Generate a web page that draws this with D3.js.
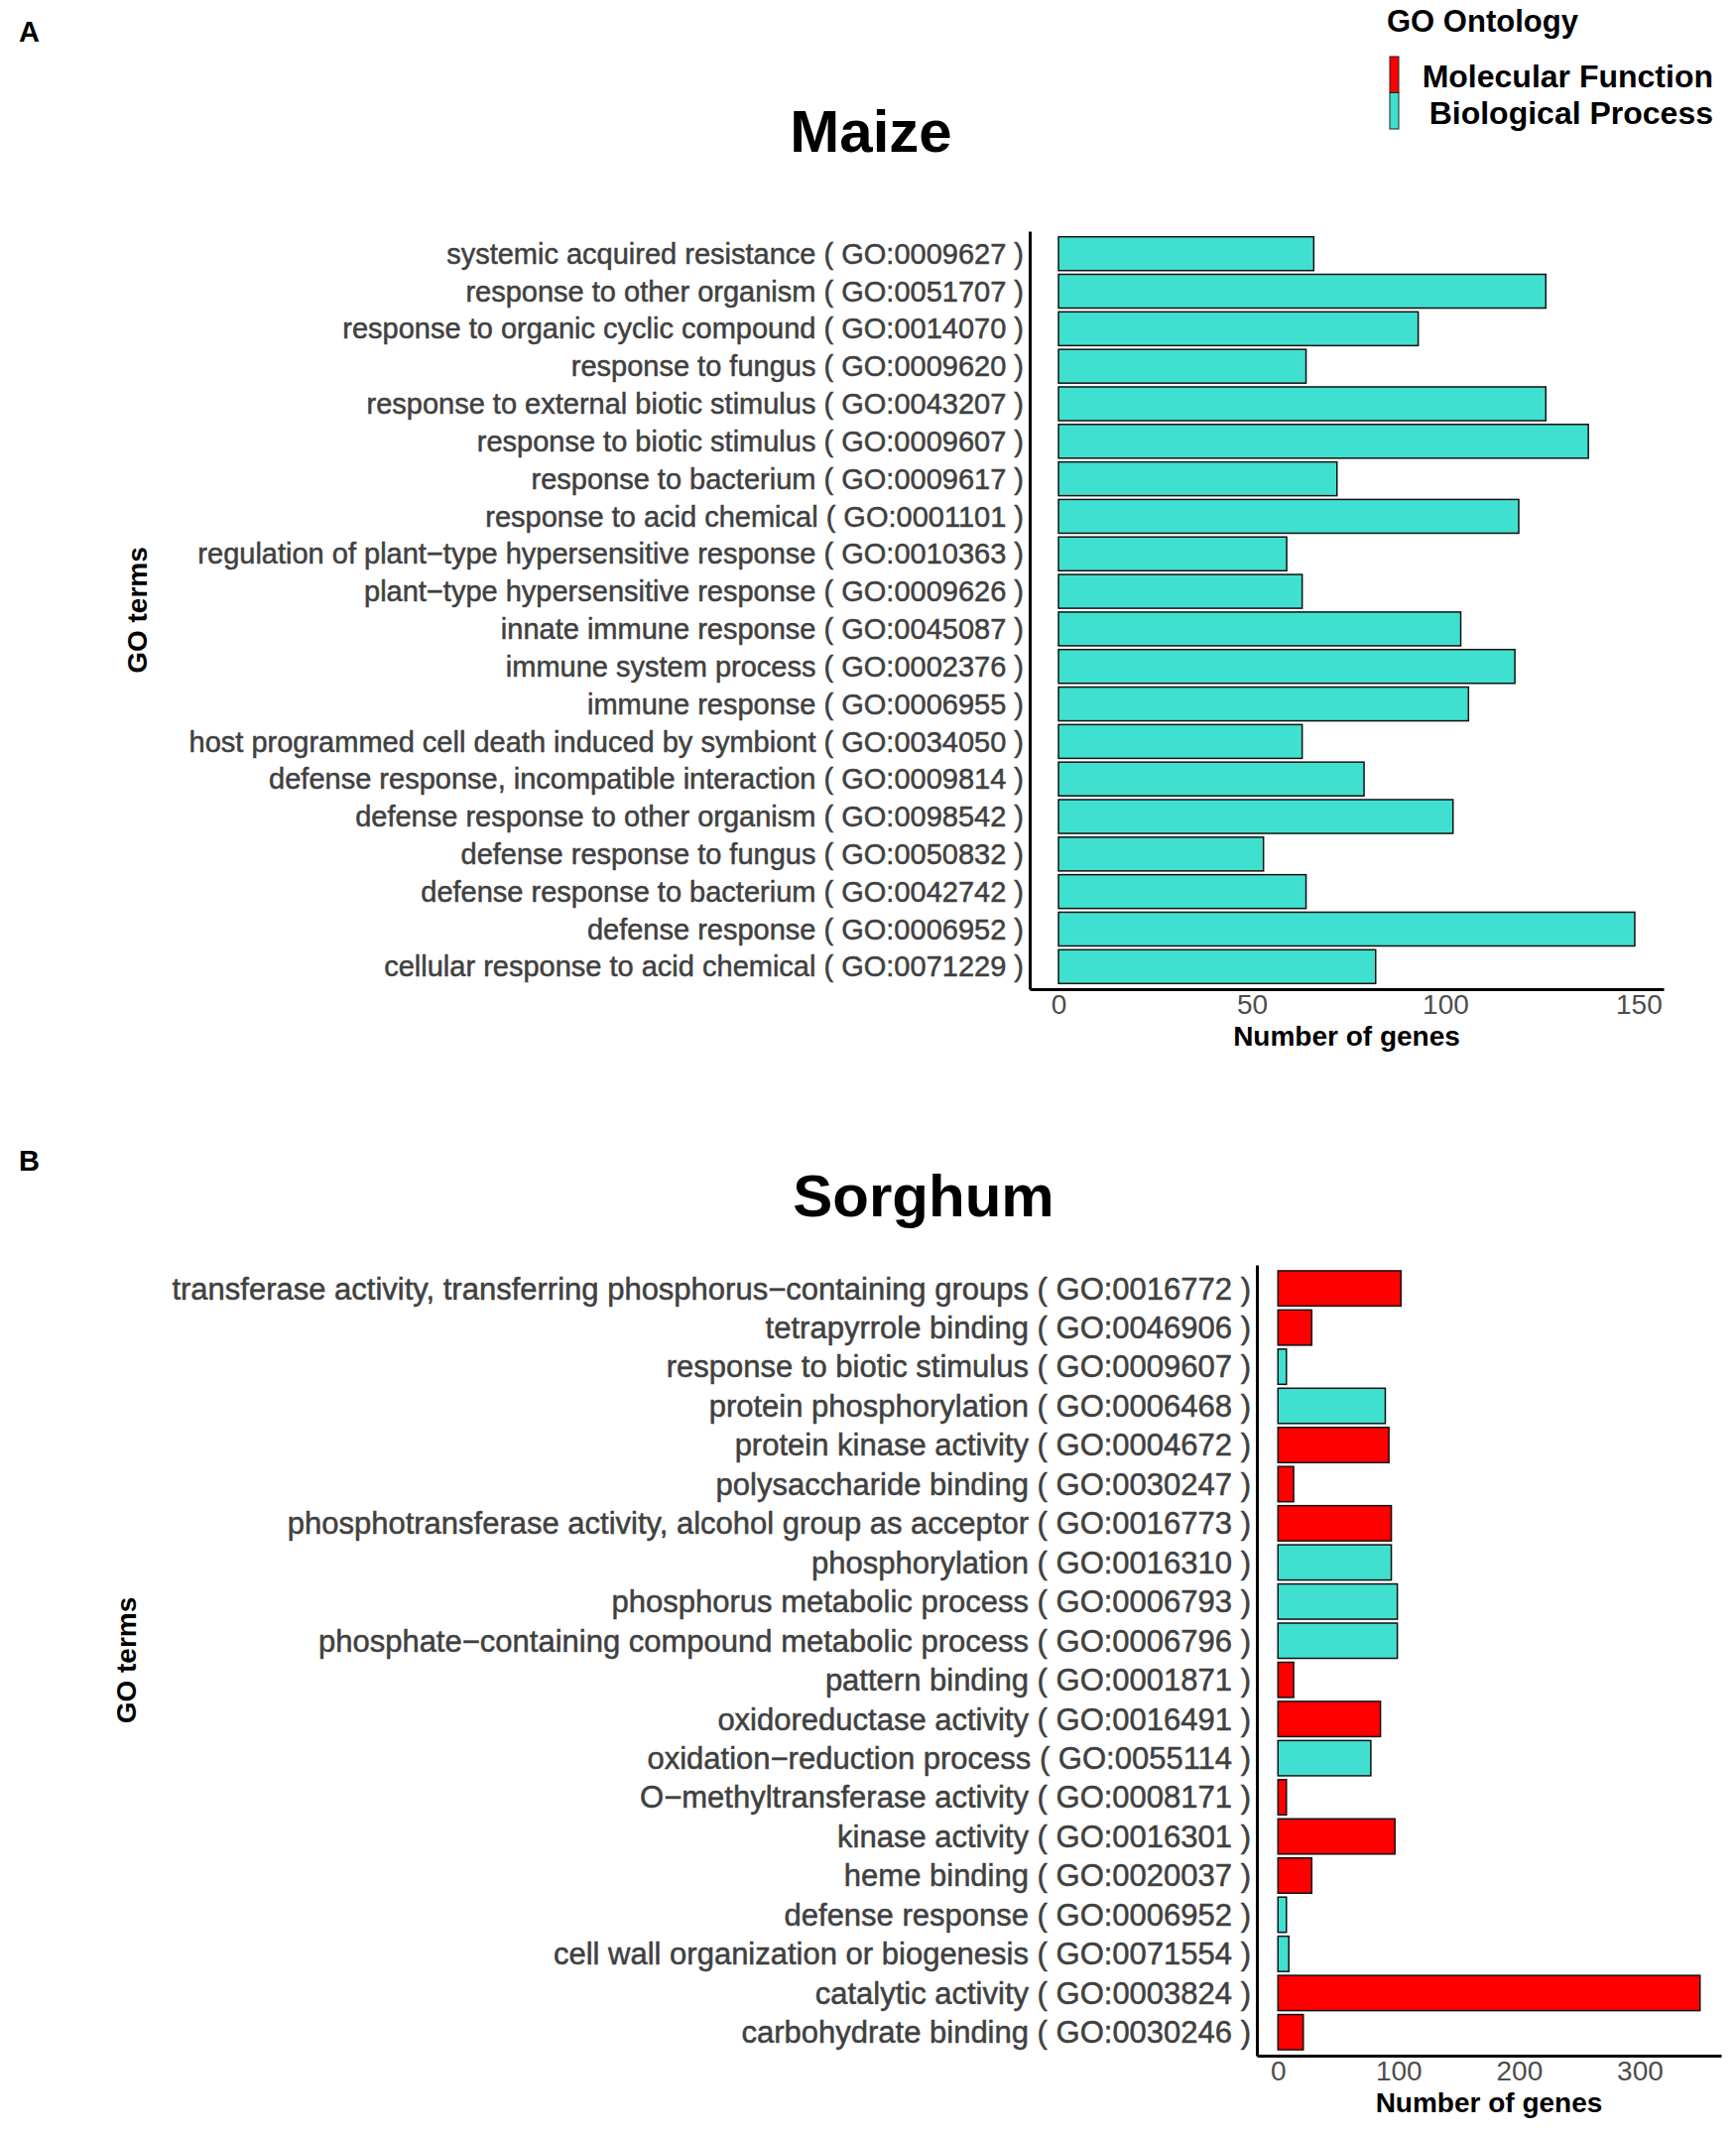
<!DOCTYPE html>
<html>
<head>
<meta charset="utf-8">
<script src="https://cdn.jsdelivr.net/npm/d3@7"></script>
<style>
  body { margin: 0; background: #fff; }
  svg { font-family: "Liberation Sans", Arial, sans-serif; }
</style>
</head>
<body>
<svg id="chart" width="1750" height="2153"></svg>
<script>
// Maize GO terms, top to bottom
const maizeTerms = [
  "systemic acquired resistance ( GO:0009627 )",
  "response to other organism ( GO:0051707 )",
  "response to organic cyclic compound ( GO:0014070 )",
  "response to fungus ( GO:0009620 )",
  "response to external biotic stimulus ( GO:0043207 )",
  "response to biotic stimulus ( GO:0009607 )",
  "response to bacterium ( GO:0009617 )",
  "response to acid chemical ( GO:0001101 )",
  "regulation of plant\u2212type hypersensitive response ( GO:0010363 )",
  "plant\u2212type hypersensitive response ( GO:0009626 )",
  "innate immune response ( GO:0045087 )",
  "immune system process ( GO:0002376 )",
  "immune response ( GO:0006955 )",
  "host programmed cell death induced by symbiont ( GO:0034050 )",
  "defense response, incompatible interaction ( GO:0009814 )",
  "defense response to other organism ( GO:0098542 )",
  "defense response to fungus ( GO:0050832 )",
  "defense response to bacterium ( GO:0042742 )",
  "defense response ( GO:0006952 )",
  "cellular response to acid chemical ( GO:0071229 )"
];
const maizeCounts = [66, 126, 93, 64, 126, 137, 72, 119, 59, 63, 104, 118, 106, 63, 79, 102, 53, 64, 149, 82];
const maizeOntology = maizeTerms.map(() => "BP");
const maizeTicks = [0, 50, 100, 150];

// Sorghum GO terms, top to bottom
const sorghumTerms = [
  "transferase activity, transferring phosphorus\u2212containing groups ( GO:0016772 )",
  "tetrapyrrole binding ( GO:0046906 )",
  "response to biotic stimulus ( GO:0009607 )",
  "protein phosphorylation ( GO:0006468 )",
  "protein kinase activity ( GO:0004672 )",
  "polysaccharide binding ( GO:0030247 )",
  "phosphotransferase activity, alcohol group as acceptor ( GO:0016773 )",
  "phosphorylation ( GO:0016310 )",
  "phosphorus metabolic process ( GO:0006793 )",
  "phosphate\u2212containing compound metabolic process ( GO:0006796 )",
  "pattern binding ( GO:0001871 )",
  "oxidoreductase activity ( GO:0016491 )",
  "oxidation\u2212reduction process ( GO:0055114 )",
  "O\u2212methyltransferase activity ( GO:0008171 )",
  "kinase activity ( GO:0016301 )",
  "heme binding ( GO:0020037 )",
  "defense response ( GO:0006952 )",
  "cell wall organization or biogenesis ( GO:0071554 )",
  "catalytic activity ( GO:0003824 )",
  "carbohydrate binding ( GO:0030246 )"
];
const sorghumCounts = [102, 28, 7, 89, 92, 13, 94, 94, 99, 99, 13, 85, 77, 7, 97, 28, 7, 9, 350, 21];
const sorghumOntology = ["MF", "MF", "BP", "BP", "MF", "MF", "MF", "BP", "BP", "BP",
                         "MF", "MF", "BP", "MF", "MF", "MF", "BP", "BP", "MF", "MF"];
const sorghumTicks = [0, 100, 200, 300];

const ontologyKeys = ["MF", "BP"];
const ontologyNames = ["Molecular Function", "Biological Process"];
const ontologyColors = ["#ff0000", "#40e0d0"];

const color = d3.scaleOrdinal().domain(ontologyKeys).range(ontologyColors);
const svg = d3.select("#chart");

function drawPanel(p) {
  const g = svg.append("g");
  const max = d3.max(p.counts);

  // ggplot-like 5% expansion on the value axis
  const x = d3.scaleLinear()
    .domain([-0.05 * max, max * 1.05])
    .range([p.left, p.right]);

  const y = d3.scaleBand()
    .domain(p.terms)
    .range([p.top, p.bottom])
    .paddingInner(0.1)
    .paddingOuter(0.15);

  // bars
  g.selectAll("rect.bar")
    .data(p.terms)
    .enter()
    .append("rect")
    .attr("class", "bar")
    .attr("x", x(0))
    .attr("y", d => y(d))
    .attr("width", (d, i) => x(p.counts[i]) - x(0))
    .attr("height", y.bandwidth())
    .attr("fill", (d, i) => color(p.ontology[i]))
    .attr("stroke", "#111")
    .attr("stroke-width", 1.5);

  // y axis with term labels
  const ya = g.append("g")
    .attr("transform", `translate(${p.left},0)`)
    .call(d3.axisLeft(y).tickSize(0).tickPadding(6));
  ya.select(".domain").attr("stroke", "#000").attr("stroke-width", 3);
  ya.selectAll("text")
    .attr("fill", "#404040")
    .attr("stroke", "#404040")
    .attr("stroke-width", 0.5)
    .style("font-size", p.labelSize + "px")
    .attr("dy", "0.35em");

  // x axis
  const xa = g.append("g")
    .attr("transform", `translate(0,${p.bottom})`)
    .call(d3.axisBottom(x).tickValues(p.ticks).tickSize(0).tickPadding(5));
  xa.select(".domain").attr("stroke", "#000").attr("stroke-width", 3);
  xa.selectAll("text")
    .attr("fill", "#4d4d4d")
    .style("font-size", "28px");

  // axis titles
  g.append("text")
    .attr("x", (p.left + p.right) / 2)
    .attr("y", p.bottom + 57)
    .attr("text-anchor", "middle")
    .style("font-size", "28px")
    .style("font-weight", "bold")
    .text("Number of genes");

  g.append("text")
    .attr("transform", `translate(${p.yTitleX},${(p.top + p.bottom) / 2}) rotate(-90)`)
    .attr("text-anchor", "middle")
    .style("font-size", "28px")
    .style("font-weight", "bold")
    .text("GO terms");

  // panel title
  g.append("text")
    .attr("x", p.titleX)
    .attr("y", p.titleY)
    .attr("text-anchor", "middle")
    .style("font-size", "60px")
    .style("font-weight", "bold")
    .text(p.title);

  // panel letter
  g.append("text")
    .attr("x", 19)
    .attr("y", p.letterY)
    .style("font-size", "29px")
    .style("font-weight", "bold")
    .text(p.letter);
}

drawPanel({
  terms: maizeTerms, counts: maizeCounts, ontology: maizeOntology, ticks: maizeTicks,
  left: 1038, right: 1677, top: 233, bottom: 997, labelSize: 29,
  yTitleX: 148, title: "Maize", titleX: 878, titleY: 153, letter: "A", letterY: 42
});

drawPanel({
  terms: sorghumTerms, counts: sorghumCounts, ontology: sorghumOntology, ticks: sorghumTicks,
  left: 1267, right: 1735, top: 1275, bottom: 2072, labelSize: 31,
  yTitleX: 137, title: "Sorghum", titleX: 931, titleY: 1226, letter: "B", letterY: 1180
});

// Legend
const legend = svg.append("g");
legend.append("text")
  .attr("x", 1398)
  .attr("y", 32)
  .style("font-size", "31px")
  .style("font-weight", "bold")
  .text("GO Ontology");

const keyY = d3.scaleBand().domain(ontologyKeys).range([57, 130]);

legend.selectAll("rect.key")
  .data(ontologyKeys)
  .enter()
  .append("rect")
  .attr("class", "key")
  .attr("x", 1401)
  .attr("y", d => keyY(d))
  .attr("width", 9)
  .attr("height", keyY.bandwidth())
  .attr("fill", d => color(d))
  .attr("stroke", "#222")
  .attr("stroke-width", 1);

legend.selectAll("text.key")
  .data(ontologyKeys)
  .enter()
  .append("text")
  .attr("class", "key")
  .attr("x", 1727)
  .attr("y", d => keyY(d) + keyY.bandwidth() / 2 + 2)
  .attr("dy", "0.35em")
  .attr("text-anchor", "end")
  .style("font-size", "32px")
  .style("font-weight", "bold")
  .text((d, i) => ontologyNames[i]);
</script>
</body>
</html>
